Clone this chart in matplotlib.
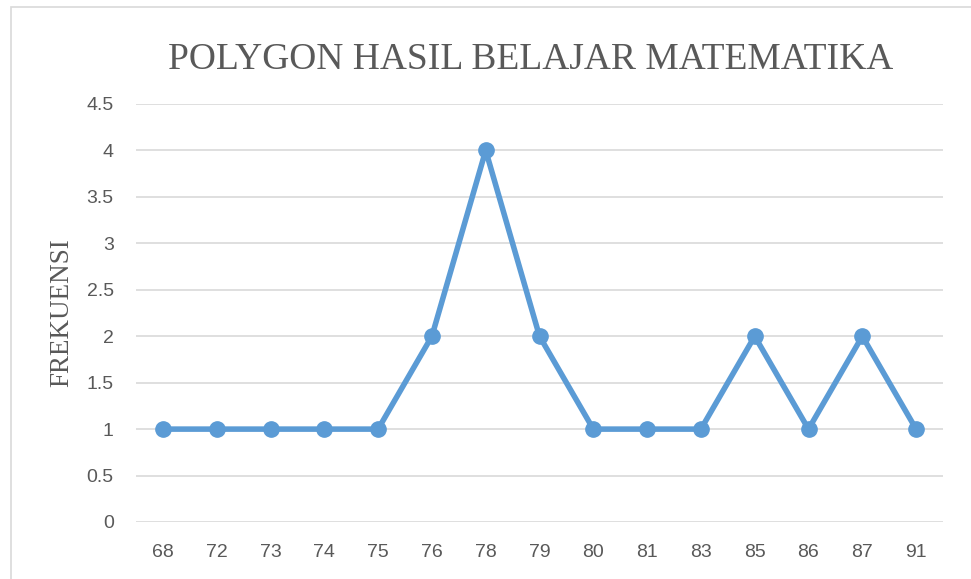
import matplotlib.pyplot as plt
from matplotlib.patches import Rectangle

nilai = ['68', '72', '73', '74', '75', '76', '78', '79', '80', '81', '83', '85', '86', '87', '91']
frekuensi = [1, 1, 1, 1, 1, 2, 4, 2, 1, 1, 1, 2, 1, 2, 1]
y_ticks = [0, 0.5, 1, 1.5, 2, 2.5, 3, 3.5, 4, 4.5]
y_labels = ['0', '0.5', '1', '1.5', '2', '2.5', '3', '3.5', '4', '4.5']

W, H = 971, 579
fig = plt.figure(figsize=(W / 100, H / 100), dpi=100)
ax = fig.add_axes([136 / W, 1 - 522 / H, (943 - 136) / W, (522 - 104) / H])

# chart border
fig.patches.append(Rectangle((11 / W, -0.01), 1.1, 1 - 7 / H + 0.01, transform=fig.transFigure,
                             fill=False, edgecolor='#d9d9d9', linewidth=1.2))

x = list(range(len(nilai)))
ax.plot(x, frekuensi, color='#5b9bd5', linewidth=4, marker='o', markersize=11,
        solid_joinstyle='round', zorder=3)

ax.set_xlim(-0.5, len(nilai) - 0.5)
ax.set_ylim(0, 4.5)
ax.set_yticks(y_ticks)
ax.set_yticklabels(y_labels)
ax.set_xticks(x)
ax.set_xticklabels(nilai)
ax.grid(axis='y', color='#d9d9d9', linewidth=1.2)
ax.set_axisbelow(True)
for s in ax.spines.values():
    s.set_visible(False)
ax.tick_params(length=0, labelsize=14, colors='#595959')
for lab in ax.get_xticklabels() + ax.get_yticklabels():
    lab.set_family('Liberation Sans')
ax.tick_params(axis='x', pad=16)
ax.tick_params(axis='y', pad=16)

fig.text(531 / W, 1 - 60 / H, 'POLYGON HASIL BELAJAR MATEMATIKA', ha='center', va='center',
         fontsize=27, family='Liberation Serif', color='#595959')
fig.text(62 / W, 1 - 313 / H, 'FREKUENSI', ha='center', va='center', rotation=90,
         fontsize=19.5, family='Liberation Serif', color='#595959')

fig.savefig('out.png', dpi=100)
